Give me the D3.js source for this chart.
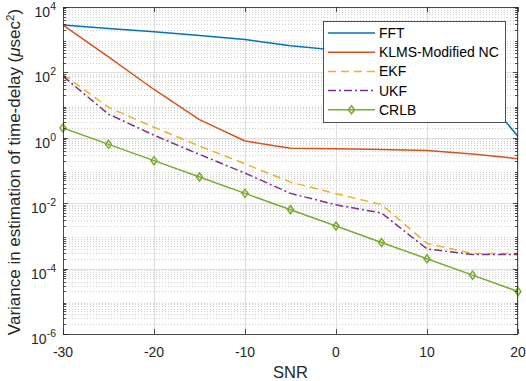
<!DOCTYPE html>
<html><head><meta charset="utf-8">
<script src="https://cdn.jsdelivr.net/npm/d3@7"></script>
<style>body{margin:0;background:#fff}svg{display:block;font-family:"Liberation Sans",Arial,sans-serif}</style>
</head><body><svg id="c" width="526" height="381"></svg>
<script>
const snr = [-30,-25,-20,-15,-10,-5,0,5,10,15,20];
const fft  = [2800, 2200, 1750, 1350, 1020, 650, 480, 320, 190, 50, 1.1];
const klms = [2800, 300, 30, 3.6, 0.8, 0.48, 0.46, 0.44, 0.41, 0.32, 0.23];
const ekf  = [87, 8.5, 2.1, 0.56, 0.16, 0.044, 0.0195, 0.0091, 0.00059, 0.00029, 0.00029];
const ukf  = [76, 5.3, 1.2, 0.31, 0.083, 0.02, 0.0089, 0.005, 0.0004, 0.00027, 0.00027];
const crlb = [2, 0.63, 0.2, 0.063, 0.02, 0.0063, 0.002, 0.00063, 0.0002, 0.000063, 0.00002];
const seriesNames = ["FFT","KLMS-Modified NC","EKF","UKF","CRLB"];
const xTicks = [-30,-20,-10,0,10,20];
const yExps = [4,2,0,-2,-4,-6];

const colors = ["#0072BD","#D95319","#EDB120","#7E2F8E","#77AC30"];
const dashes = [null,null,"8,5","8,3,2,3",null];
const allSeries = [fft,klms,ekf,ukf,crlb];

const svg = d3.select("#c");
const L=63,R=518,T=7,B=334;
const x = d3.scaleLinear().domain([-30,20]).range([L,R]);
const y = d3.scaleLog().domain([1e-6,1e4]).range([B,T]);
const axisCol="#262626";

// minor grid (horizontal)
const minor=[];
for(let e=-6;e<4;e++) for(let k=2;k<=9;k++) minor.push(k*Math.pow(10,e));
svg.append("g").selectAll("line").data(minor).join("line")
  .attr("x1",L).attr("x2",R).attr("y1",d=>Math.round(y(d))+0.5).attr("y2",d=>Math.round(y(d))+0.5)
  .attr("stroke","#cfcfcf").attr("stroke-width",1).attr("stroke-dasharray","1,2");
// major grid
svg.append("g").selectAll("line").data(yExps).join("line")
  .attr("x1",L).attr("x2",R).attr("y1",d=>Math.round(y(Math.pow(10,d)))+0.5).attr("y2",d=>Math.round(y(Math.pow(10,d)))+0.5)
  .attr("stroke","#dfdfdf").attr("stroke-width",1);
svg.append("g").selectAll("line").data(xTicks).join("line")
  .attr("y1",T).attr("y2",B).attr("x1",d=>Math.round(x(d))+0.5).attr("x2",d=>Math.round(x(d))+0.5)
  .attr("stroke","#dfdfdf").attr("stroke-width",1);

// clip
svg.append("clipPath").attr("id","clp").append("rect").attr("x",L).attr("y",T).attr("width",R-L).attr("height",B-T);

const line = d3.line().x((d,i)=>x(snr[i])).y(d=>y(d));
const g = svg.append("g").attr("clip-path","url(#clp)");
allSeries.forEach((s,i)=>{
  g.append("path").attr("d",line(s)).attr("fill","none").attr("stroke",colors[i])
   .attr("stroke-width",1.5).attr("stroke-dasharray",dashes[i]).attr("stroke-linejoin","round");
});
const diamond = (cx,cy)=>`M${cx},${cy-4}L${cx+3},${cy}L${cx},${cy+4}L${cx-3},${cy}Z`;
svg.append("g").selectAll("path").data(crlb).join("path")
  .attr("d",(d,i)=>diamond(x(snr[i]),y(d))).attr("fill","none").attr("stroke",colors[4]).attr("stroke-width",1.5);

// axes box
svg.append("rect").attr("x",L+0.5).attr("y",T+0.5).attr("width",R-L-1).attr("height",B-T).attr("fill","none").attr("stroke",axisCol).attr("stroke-width",0.8);
// ticks
const tk = svg.append("g").attr("stroke",axisCol).attr("stroke-width",0.8);
xTicks.forEach(v=>{const px=Math.round(x(v))+0.5;
  tk.append("line").attr("x1",px).attr("x2",px).attr("y1",B).attr("y2",B-5);
  tk.append("line").attr("x1",px).attr("x2",px).attr("y1",T).attr("y2",T+5);});
yExps.forEach(e=>{const py=Math.round(y(Math.pow(10,e)))+0.5;
  tk.append("line").attr("x1",L).attr("x2",L+5).attr("y1",py).attr("y2",py);
  tk.append("line").attr("x1",R).attr("x2",R-5).attr("y1",py).attr("y2",py);});
minor.forEach(v=>{const py=Math.round(y(v))+0.5;
  tk.append("line").attr("x1",L).attr("x2",L+3).attr("y1",py).attr("y2",py);
  tk.append("line").attr("x1",R).attr("x2",R-3).attr("y1",py).attr("y2",py);});

// tick labels
svg.append("g").selectAll("text").data(xTicks).join("text")
  .attr("x",d=>x(d)).attr("y",357).attr("text-anchor","middle").attr("font-size",14).attr("fill","#262626").text(d=>d);
const yl = svg.append("g").selectAll("text").data(yExps).join("text")
  .attr("x",56).attr("y",d=>y(Math.pow(10,d))+10).attr("text-anchor","end").attr("font-size",14).attr("fill","#262626");
yl.append("tspan").text("10");
yl.append("tspan").attr("dy",-7).attr("font-size",10.5).text(d=>d);

// axis labels
svg.append("text").attr("x",(L+R)/2).attr("y",378).attr("text-anchor","middle").attr("font-size",16.5).attr("fill","#262626").text("SNR");
const ylab = svg.append("text").attr("transform",`translate(20,172) rotate(-90)`).attr("text-anchor","middle").attr("font-size",17).attr("fill","#262626");
ylab.append("tspan").text("Variance in estimation of time-delay (");
ylab.append("tspan").attr("font-style","italic").text("μ");
ylab.append("tspan").text("sec");
ylab.append("tspan").attr("dy",-6).attr("font-size",11.5).text("2");
ylab.append("tspan").attr("dy",6).text(")");

// legend
const lg = svg.append("g");
lg.append("rect").attr("x",323.5).attr("y",21.5).attr("width",182).attr("height",101).attr("fill","#fff").attr("stroke",axisCol).attr("stroke-width",0.8);
seriesNames.forEach((n,i)=>{
  const yy = 33 + i*19.2;
  lg.append("line").attr("x1",328).attr("x2",375).attr("y1",yy).attr("y2",yy).attr("stroke",colors[i]).attr("stroke-width",1.5).attr("stroke-dasharray",dashes[i]);
  if(i===4) lg.append("path").attr("d",diamond(351.5,yy)).attr("fill","none").attr("stroke",colors[i]).attr("stroke-width",1.5);
  lg.append("text").attr("x",379).attr("y",yy+5).attr("font-size",14).attr("fill","#000").text(n);
});
</script></body></html>
